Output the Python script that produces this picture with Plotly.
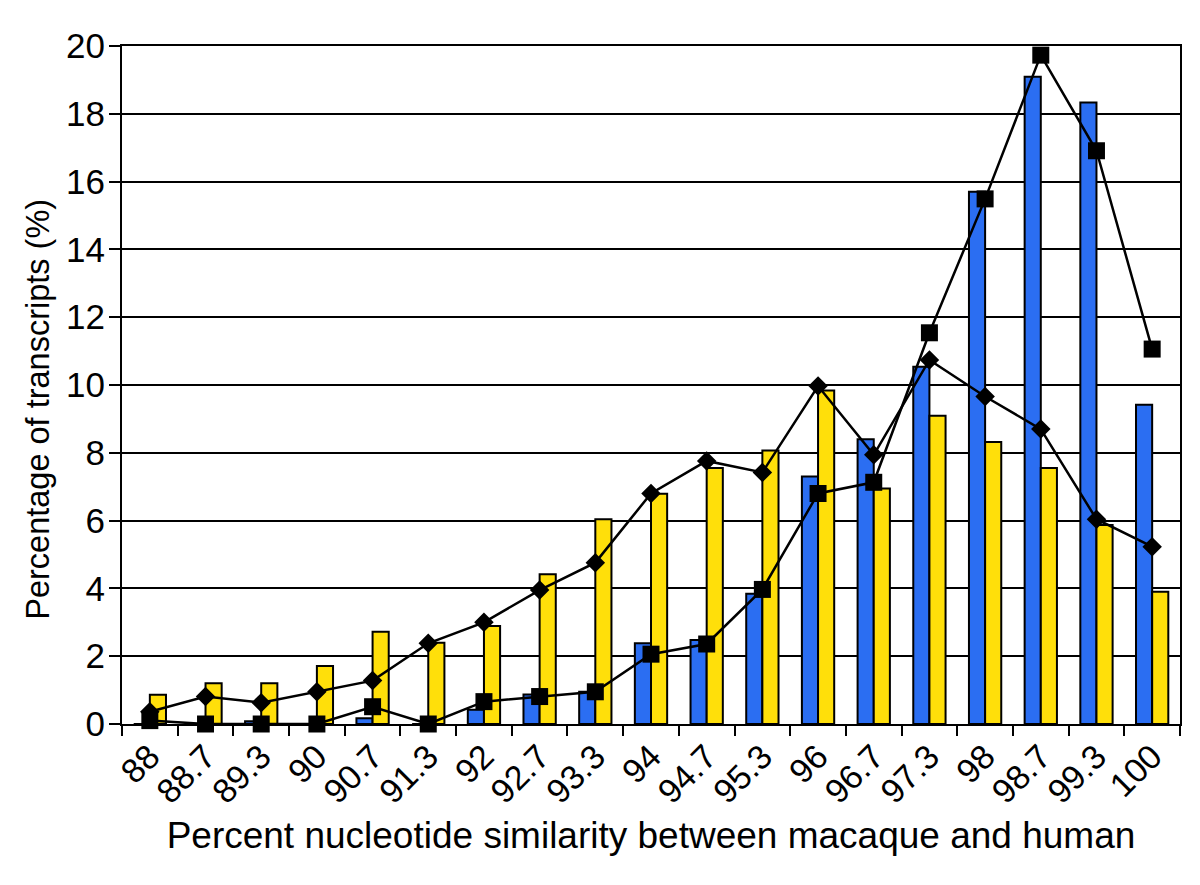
import plotly.graph_objects as go

categories = ["88", "88.7", "89.3", "90", "90.7", "91.3", "92", "92.7", "93.3", "94",
              "94.7", "95.3", "96", "96.7", "97.3", "98", "98.7", "99.3", "100"]

blue_bars = [0, 0, 0.08, 0, 0.17, 0, 0.42, 0.87, 0.95, 2.38,
             2.48, 3.84, 7.3, 8.4, 10.54, 15.7, 19.09, 18.33, 9.42]
yellow_bars = [0.86, 1.2, 1.2, 1.71, 2.72, 2.4, 2.89, 4.42, 6.04, 6.79,
               7.55, 8.07, 9.84, 6.95, 9.09, 8.32, 7.55, 5.87, 3.9]
square_line = [0.1, 0, 0, 0, 0.51, 0, 0.66, 0.81, 0.95, 2.06,
               2.36, 3.97, 6.8, 7.13, 11.54, 15.49, 19.73, 16.91, 11.06]
diamond_line = [0.36, 0.81, 0.63, 0.95, 1.28, 2.38, 3.0, 3.95, 4.76, 6.8,
                7.76, 7.42, 9.97, 7.94, 10.74, 9.66, 8.7, 6.04, 5.23]

y_ticks = list(range(0, 21, 2))

fig = go.Figure()
fig.add_trace(go.Bar(x=categories, y=blue_bars, marker=dict(color="#2B6EF2", line=dict(color="black", width=2)),
                     showlegend=False))
fig.add_trace(go.Bar(x=categories, y=yellow_bars, marker=dict(color="#FFDF0A", line=dict(color="black", width=2)),
                     showlegend=False))
fig.add_trace(go.Scatter(x=categories, y=square_line, mode="lines+markers",
                         line=dict(color="black", width=2.5),
                         marker=dict(symbol="square", size=17, color="black"), showlegend=False,
                         cliponaxis=False))
fig.add_trace(go.Scatter(x=categories, y=diamond_line, mode="lines+markers",
                         line=dict(color="black", width=2.5),
                         marker=dict(symbol="diamond", size=15, color="black"), showlegend=False,
                         cliponaxis=False))

font_family = "Liberation Sans, Arial, Helvetica, sans-serif"
fig.update_layout(
    width=1200, height=885,
    margin=dict(l=114, r=28, t=38, b=169),
    paper_bgcolor="white", plot_bgcolor="white",
    barmode="group", bargap=0.42, bargroupgap=0,
    font=dict(family=font_family, size=34, color="black"),
    annotations=[dict(
        text="Percentage of transcripts (%)", textangle=-90,
        xref="paper", yref="paper", x=-0.0794, y=0.465,
        xanchor="center", yanchor="middle", showarrow=False,
        font=dict(size=32.5, family=font_family, color="black"),
    )],
)
fig.update_xaxes(
    type="category", tickangle=-45, tickson="boundaries", range=[-0.5, 18.5],
    ticks="outside", ticklen=10, tickwidth=2, tickcolor="black",
    showline=True, linecolor="black", linewidth=2, mirror=True,
    showgrid=False, tickfont=dict(size=34), ticklabelstandoff=-3,
    title=dict(text="Percent nucleotide similarity between macaque and human", font=dict(size=37), standoff=13),
)
fig.update_yaxes(
    range=[0, 20], tickvals=y_ticks,
    ticks="outside", ticklen=11, tickwidth=2, tickcolor="black",
    showline=True, linecolor="black", linewidth=2, mirror=True,
    showgrid=True, gridcolor="black", gridwidth=2,
    tickfont=dict(size=35), ticklabelstandoff=-3,
    zeroline=False,
)

fig.write_html("out.html")
